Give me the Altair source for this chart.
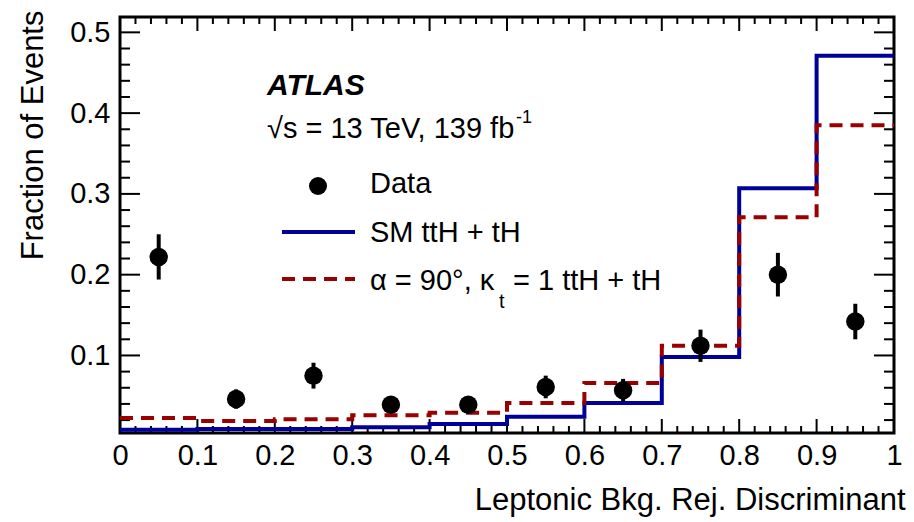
import altair as alt
import pandas as pd

# ---- binned distributions of the leptonic background-rejection discriminant ----
bin_edges = [0.0, 0.1, 0.2, 0.3, 0.4, 0.5, 0.6, 0.7, 0.8, 0.9, 1.0]
bin_centers = [0.05, 0.15, 0.25, 0.35, 0.45, 0.55, 0.65, 0.75, 0.85, 0.95]

data_frac = [0.222, 0.046, 0.075, 0.039, 0.039, 0.061, 0.057, 0.112, 0.200, 0.142]
data_err = [0.028, 0.012, 0.016, 0.009, 0.009, 0.014, 0.014, 0.020, 0.027, 0.022]
sm_frac = [0.008, 0.009, 0.009, 0.011, 0.015, 0.024, 0.041, 0.098, 0.307, 0.471]
cp_frac = [0.0225, 0.019, 0.021, 0.026, 0.029, 0.041, 0.066, 0.112, 0.271, 0.385]

# ---- axis ticks ----
x_major = [0.0, 0.1, 0.2, 0.3, 0.4, 0.5, 0.6, 0.7, 0.8, 0.9, 1.0]
x_minor = [round(i * 0.02, 2) for i in range(51) if i % 5 != 0]
y_major = [0.1, 0.2, 0.3, 0.4, 0.5]
y_minor = [round(i * 0.02, 2) for i in range(1, 26) if i % 5 != 0]

W, H = 774, 416
FONT = "Liberation Sans"
BLUE = "#000099"
RED = "#990000"

x_scale = alt.Scale(domain=[0, 1], nice=False, zero=False)
y_scale = alt.Scale(domain=[0.004, 0.519], nice=False, zero=False)

x_axis = alt.Axis(
    values=x_major, format=".1~f", ticks=False, domain=False, grid=False,
    labelFont=FONT, labelFontSize=29, labelColor="black", labelPadding=8,
    labelFlush=False,
    title="Leptonic Bkg. Rej. Discriminant", titleFont=FONT, titleFontSize=31,
    titleFontWeight="normal", titleColor="black", titleX=W + 11, titleY=76,
    titleAlign="right", titleBaseline="alphabetic", titleAnchor="end",
)
y_axis = alt.Axis(
    values=y_major, format=".1f", ticks=False, domain=False, grid=False,
    labelFont=FONT, labelFontSize=29, labelColor="black", labelPadding=10,
    labelFlush=False,
    title="Fraction of Events", titleFont=FONT, titleFontSize=31,
    titleFontWeight="normal", titleColor="black", titleX=-78, titleY=-7,
    titleAngle=270, titleAlign="right", titleBaseline="alphabetic", titleAnchor="end",
)


def X(field):
    return alt.X(field, type="quantitative", scale=x_scale, axis=x_axis)


def Y(field):
    return alt.Y(field, type="quantitative", scale=y_scale, axis=y_axis)


# step histograms: repeat the last bin content at the upper edge
sm_df = pd.DataFrame({"x": bin_edges, "y": sm_frac + [sm_frac[-1]]})
cp_df = pd.DataFrame({"x": bin_edges, "y": cp_frac + [cp_frac[-1]]})
pts_df = pd.DataFrame({
    "x": bin_centers,
    "y": data_frac,
    "lo": [v - e for v, e in zip(data_frac, data_err)],
    "hi": [v + e for v, e in zip(data_frac, data_err)],
})

sm_line = alt.Chart(sm_df).mark_line(
    interpolate="step-after", color=BLUE, strokeWidth=4
).encode(x=X("x"), y=Y("y"))

cp_line = alt.Chart(cp_df).mark_line(
    interpolate="step-after", color=RED, strokeWidth=4, strokeDash=[13, 8]
).encode(x=X("x"), y=Y("y"))

err_bars = alt.Chart(pts_df).mark_rule(color="black", strokeWidth=4).encode(
    x=X("x"), y=Y("lo"), y2="hi"
)
dots = alt.Chart(pts_df).mark_point(
    filled=True, shape="circle", size=340, color="black", opacity=1
).encode(x=X("x"), y=Y("y"))

# ---- inward ticks on all four sides ----
xmaj_df = pd.DataFrame({"x": x_major})
xmin_df = pd.DataFrame({"x": x_minor})
ymaj_df = pd.DataFrame({"y": y_major})
ymin_df = pd.DataFrame({"y": y_minor})

tick_style = dict(color="black", strokeWidth=2)
tick_layers = []
for df, length in ((xmaj_df, 14), (xmin_df, 7)):
    tick_layers.append(alt.Chart(df).mark_rule(**tick_style).encode(
        x=X("x"), y=alt.value(H), y2=alt.value(H - length)))
    tick_layers.append(alt.Chart(df).mark_rule(**tick_style).encode(
        x=X("x"), y=alt.value(0), y2=alt.value(length)))
for df, length in ((ymaj_df, 20), (ymin_df, 10)):
    tick_layers.append(alt.Chart(df).mark_rule(**tick_style).encode(
        y=Y("y"), x=alt.value(0), x2=alt.value(length)))
    tick_layers.append(alt.Chart(df).mark_rule(**tick_style).encode(
        y=Y("y"), x=alt.value(W), x2=alt.value(W - length)))

# ---- ATLAS label and legend ----
one = pd.DataFrame({"k": [0]})


def label(text, x, y, size=29, **kw):
    return alt.Chart(one).mark_text(
        text=text, font=FONT, fontSize=size, align="left", baseline="alphabetic",
        color="black", **kw
    ).encode(x=alt.value(x), y=alt.value(y))


atlas = label("ATLAS", 147, 78, size=30, fontStyle="italic", fontWeight="bold")
energy = label("\u221as = 13 TeV, 139 fb", 147, 121)
energy_sup = label("-1", 396, 106, size=18)

leg_dot = alt.Chart(one).mark_point(
    filled=True, shape="circle", size=324, color="black", opacity=1
).encode(x=alt.value(198), y=alt.value(169))
leg_data = label("Data", 250, 176)

leg_sm_line = alt.Chart(one).mark_rule(color=BLUE, strokeWidth=4).encode(
    x=alt.value(162), x2=alt.value(235), y=alt.value(215))
leg_sm = label("SM ttH + tH", 250, 225)

leg_cp_line = alt.Chart(one).mark_rule(
    color=RED, strokeWidth=4, strokeDash=[13, 8]
).encode(x=alt.value(162), x2=alt.value(235), y=alt.value(262))
leg_cp_a = label("\u03b1 = 90\u00b0, \u03ba", 250, 273)
leg_cp_sub = label("t", 379, 291, size=20)
leg_cp_b = label("= 1 ttH + tH", 393, 273)

chart = alt.layer(
    *tick_layers,
    sm_line, cp_line, err_bars, dots,
    atlas, energy, energy_sup,
    leg_dot, leg_data, leg_sm_line, leg_sm, leg_cp_line, leg_cp_a, leg_cp_sub, leg_cp_b,
).properties(
    width=W, height=H,
    padding={"left": 120, "top": 17, "right": 20, "bottom": 89},
    autosize=alt.AutoSizeParams(type="none"),
    background="white",
).configure_view(
    stroke="black", strokeWidth=3, fill="white"
)

chart.save("out.html", embed_options={"renderer": "svg", "actions": False})
